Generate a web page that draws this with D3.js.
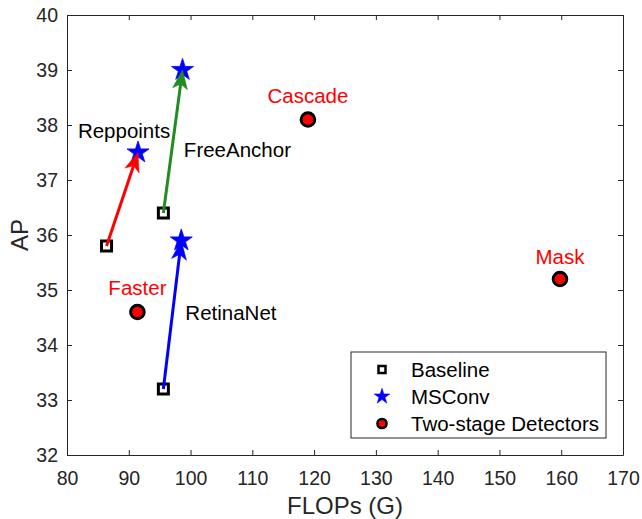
<!DOCTYPE html>
<html>
<head>
<meta charset="utf-8">
<script src="https://cdn.jsdelivr.net/npm/d3@7"></script>
<style>
  html, body { margin: 0; padding: 0; background: #fff; }
  svg { display: block; font-family: "Liberation Sans", Arial, Helvetica, sans-serif; }
</style>
</head>
<body>
<svg id="chart" width="642" height="519"></svg>
<script>
// ---- data ----
const detectors = ["Reppoints", "FreeAnchor", "RetinaNet"];
const baselineFlops = [86.4, 95.6, 95.6];
const baselineAP = [35.8, 36.4, 33.2];
const msconvFlops = [91.5, 98.7, 98.5];
const msconvAP = [37.5, 39.0, 35.9];
const twoStageNames = ["Faster", "Cascade", "Mask"];
const twoStageFlops = [91.4, 119.0, 159.8];
const twoStageAP = [34.6, 38.1, 35.2];
const xTicks = [80, 90, 100, 110, 120, 130, 140, 150, 160, 170];
const yTicks = [32, 33, 34, 35, 36, 37, 38, 39, 40];
const legendLabels = ["Baseline", "MSConv", "Two-stage Detectors"];

// ---- layout ----
const svg = d3.select("#chart");
const L = 67, R = 623, T = 15, B = 455;
const x = d3.scaleLinear().domain([80, 170]).range([L, R]);
const y = d3.scaleLinear().domain([32, 40]).range([B, T]);
const axisColor = "#262626";
const arrowColors = ["#ff0000", "#228b22", "#0000ff"];

svg.append("rect").attr("x", 0).attr("y", 0).attr("width", 642).attr("height", 519).attr("fill", "#fff");

// axes with inward ticks
const tl = 5;
const gx = svg.append("g").attr("transform", `translate(0,${B})`)
  .call(d3.axisBottom(x).tickValues(xTicks).tickSizeInner(-tl).tickSizeOuter(0).tickPadding(0));
const gxTop = svg.append("g").attr("transform", `translate(0,${T})`)
  .call(d3.axisTop(x).tickValues(xTicks).tickSizeInner(-tl).tickSizeOuter(0).tickFormat(""));
const gy = svg.append("g").attr("transform", `translate(${L},0)`)
  .call(d3.axisLeft(y).tickValues(yTicks).tickSizeInner(-tl).tickSizeOuter(0).tickPadding(0));
const gyR = svg.append("g").attr("transform", `translate(${R},0)`)
  .call(d3.axisRight(y).tickValues(yTicks).tickSizeInner(-tl).tickSizeOuter(0).tickFormat(""));
[gx, gxTop, gy, gyR].forEach(g => {
  g.select(".domain").attr("stroke", axisColor).attr("stroke-width", 1);
  g.selectAll(".tick line").attr("stroke", axisColor).attr("stroke-width", 1);
});
gx.selectAll(".tick text").attr("fill", axisColor).attr("font-size", "19.5px")
  .attr("dy", null).attr("y", 30);
gy.selectAll(".tick text").attr("fill", axisColor).attr("font-size", "19.5px")
  .attr("x", -9).attr("dy", "0.35em");
svg.selectAll(".tick text").attr("font-family", "Liberation Sans, Arial, sans-serif");

// axis labels
svg.append("text").attr("x", (L + R) / 2).attr("y", 514).attr("text-anchor", "middle")
  .attr("font-size", "24px").attr("fill", axisColor).text("FLOPs (G)");
svg.append("text").attr("transform", `translate(28,${(T + B) / 2}) rotate(-90)`)
  .attr("text-anchor", "middle").attr("font-size", "24px").attr("fill", axisColor).text("AP");

// markers
const starPath = d3.symbol(d3.symbolStar, 150)();
const starPathSmall = d3.symbol(d3.symbolStar, 75)();

detectors.forEach((d, i) => {
  svg.append("rect")
    .attr("x", x(baselineFlops[i]) - 5).attr("y", y(baselineAP[i]) - 5)
    .attr("width", 10).attr("height", 10)
    .attr("fill", "#fff").attr("stroke", "#000").attr("stroke-width", 3);
});

detectors.forEach((d, i) => {
  svg.append("path").attr("d", starPath)
    .attr("transform", `translate(${x(msconvFlops[i])},${y(msconvAP[i])})`)
    .attr("fill", "#0000ff").attr("stroke", "#0000ff").attr("stroke-width", 0.8);
});

twoStageNames.forEach((d, i) => {
  svg.append("circle").attr("cx", x(twoStageFlops[i])).attr("cy", y(twoStageAP[i])).attr("r", 6.8)
    .attr("fill", "#ff0000").attr("stroke", "#000").attr("stroke-width", 3);
});

// arrows from baseline to MSConv
detectors.forEach((d, i) => {
  const x0 = x(baselineFlops[i]), y0 = y(baselineAP[i]);
  const x1 = x(msconvFlops[i]), y1 = y(msconvAP[i]);
  const dx = x1 - x0, dy = y1 - y0, len = Math.hypot(dx, dy);
  const ux = dx / len, uy = dy / len, px = -uy, py = ux;
  const headLen = 19, headW = 7.5, notch = 5;
  const bx = x1 - ux * headLen, by = y1 - uy * headLen;
  const nx = x1 - ux * (headLen - notch), ny = y1 - uy * (headLen - notch);
  const c = arrowColors[i];
  svg.append("line").attr("x1", x0).attr("y1", y0).attr("x2", nx).attr("y2", ny)
    .attr("stroke", c).attr("stroke-width", 3);
  const pts = [[x1, y1], [bx + px * headW, by + py * headW], [nx, ny], [bx - px * headW, by - py * headW]];
  svg.append("path").attr("d", "M" + pts.map(p => p.join(",")).join("L") + "Z")
    .attr("fill", c).attr("stroke", c).attr("stroke-width", 0.5);
});

// text labels
const labelFont = "20.5px";
const detOffsets = [
  { ref: "star", dx: -14, dy: -14.5, anchor: "middle" },
  { ref: "square", dx: 20.5, dy: -56.5, anchor: "start" },
  { ref: "square", dx: 22, dy: -69.5, anchor: "start" }
];
detectors.forEach((d, i) => {
  const o = detOffsets[i];
  const px = o.ref === "star" ? x(msconvFlops[i]) : x(baselineFlops[i]);
  const py = o.ref === "star" ? y(msconvAP[i]) : y(baselineAP[i]);
  svg.append("text").attr("x", px + o.dx).attr("y", py + o.dy).attr("text-anchor", o.anchor)
    .attr("font-size", labelFont).attr("fill", "#000").text(d);
});
const tsOffsets = [-17, -16.7, -15];
twoStageNames.forEach((d, i) => {
  svg.append("text").attr("x", x(twoStageFlops[i])).attr("y", y(twoStageAP[i]) + tsOffsets[i])
    .attr("text-anchor", "middle").attr("font-size", labelFont).attr("fill", "#ff0000").text(d);
});

// legend
const lg = svg.append("g");
lg.append("rect").attr("x", 351).attr("y", 352).attr("width", 255).attr("height", 86)
  .attr("fill", "#fff").attr("stroke", axisColor).attr("stroke-width", 1);
const rowY = [369.5, 396.5, 423.5];
const mx = 382;
lg.append("rect").attr("x", mx - 3.5).attr("y", rowY[0] - 3.5).attr("width", 7).attr("height", 7)
  .attr("fill", "#fff").attr("stroke", "#000").attr("stroke-width", 2.5);
lg.append("path").attr("d", starPathSmall).attr("transform", `translate(${mx},${rowY[1]})`)
  .attr("fill", "#0000ff").attr("stroke", "#0000ff").attr("stroke-width", 0.6);
lg.append("circle").attr("cx", mx).attr("cy", rowY[2]).attr("r", 4.6)
  .attr("fill", "#ff0000").attr("stroke", "#000").attr("stroke-width", 2.5);
legendLabels.forEach((t, i) => {
  lg.append("text").attr("x", 411).attr("y", rowY[i]).attr("dy", "0.35em")
    .attr("font-size", "20.5px").attr("fill", "#000").text(t);
});
</script>
</body>
</html>
